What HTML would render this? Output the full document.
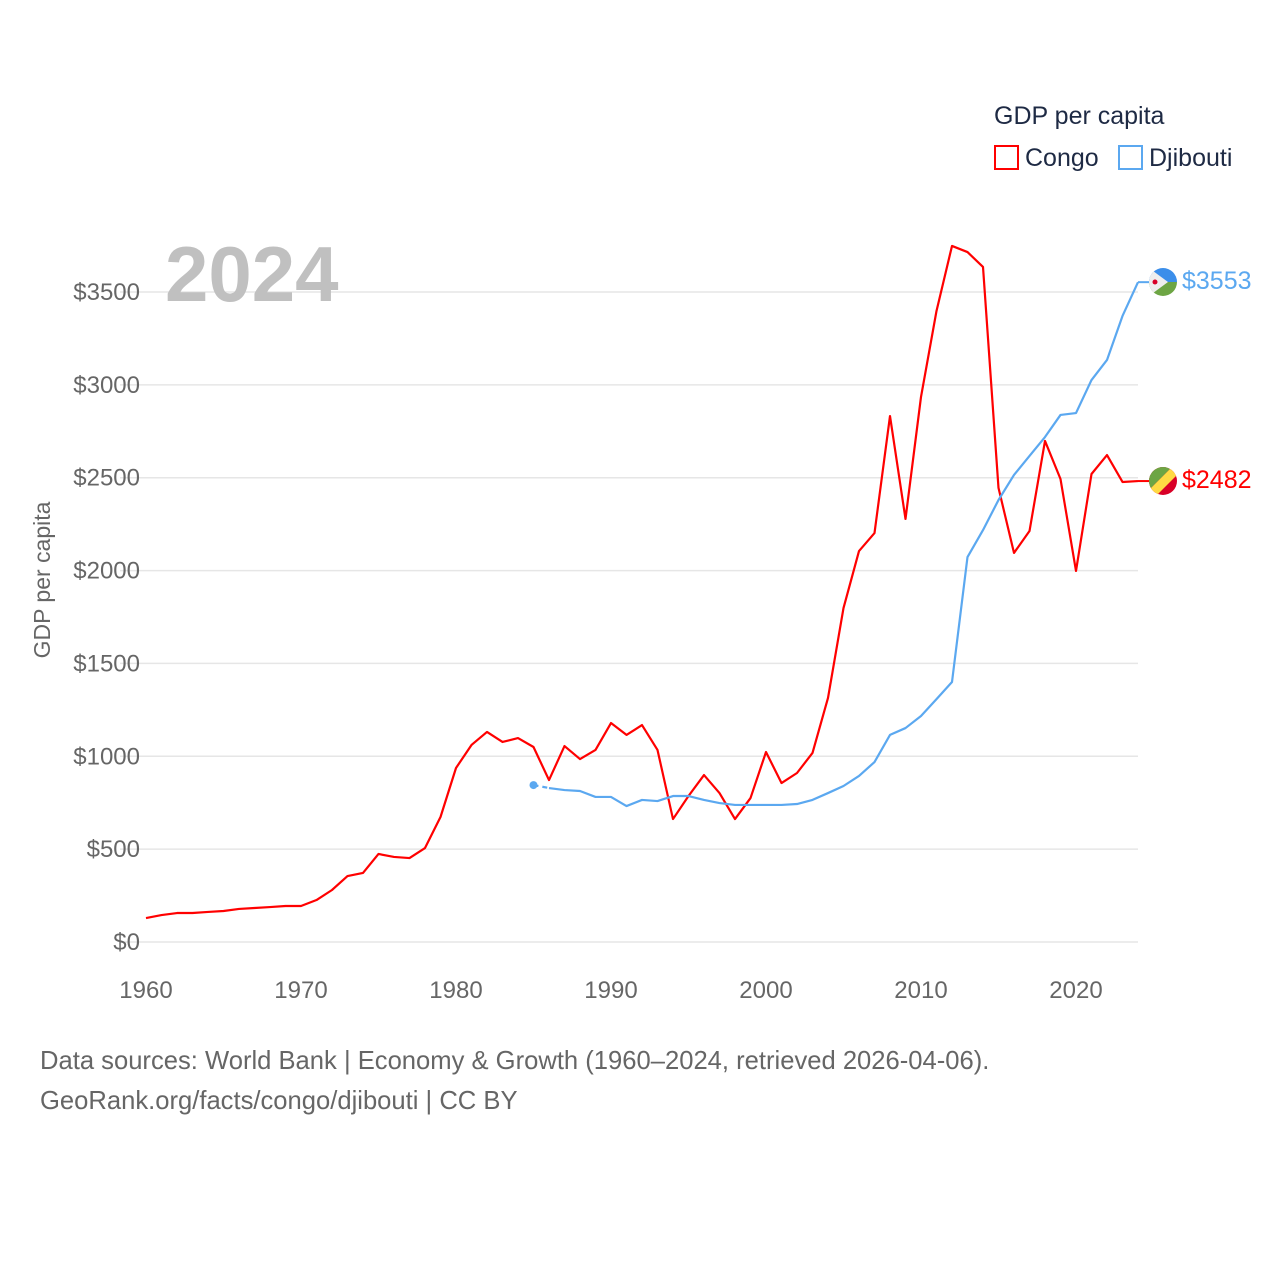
<!DOCTYPE html>
<html><head><meta charset="utf-8"><style>
body{margin:0;background:#fff;font-family:"Liberation Sans",sans-serif}
svg text{font-family:"Liberation Sans",sans-serif}
</style></head><body>
<svg id="chart" width="1280" height="1280">
<g id="grid"></g><g id="yt"></g><g id="xt"></g><g id="lines"></g>
<text x="165" y="301" font-size="78" font-weight="bold" fill="#c0c0c0">2024</text>
<text transform="translate(50,580) rotate(-90)" text-anchor="middle" font-size="23" fill="#666">GDP per capita</text>
<g>
<text x="994" y="124" font-size="25" fill="#1e2a44">GDP per capita</text>
<rect x="995" y="146" width="23" height="23" fill="none" stroke="#ff0000" stroke-width="2"/>
<text x="1025" y="166" font-size="25" fill="#1e2a44">Congo</text>
<rect x="1119" y="146" width="23" height="23" fill="none" stroke="#5ba8f0" stroke-width="2"/>
<text x="1149" y="166" font-size="25" fill="#1e2a44">Djibouti</text>
</g>
<g>
<clipPath id="c1"><circle cx="1163" cy="282" r="14"/></clipPath>
<g clip-path="url(#c1)"><rect x="1149" y="268" width="28" height="14" fill="#3b8eea"/><rect x="1149" y="282" width="28" height="14" fill="#6da544"/><polygon points="1149,268 1149,296 1168,282" fill="#eee"/><circle cx="1155" cy="282" r="2.5" fill="#d80027"/></g></g>
<g>
<clipPath id="c2"><circle cx="1163" cy="481" r="14"/></clipPath>
<g clip-path="url(#c2)"><rect x="1149" y="467" width="28" height="28" fill="#d80027"/><polygon points="1149,467 1172,467 1149,490" fill="#6da544"/><polygon points="1172,467 1180,467 1180,472 1154,498 1149,498 1149,490" fill="#ffda44"/></g></g>
<text x="1182" y="289" font-size="25" fill="#5ba8f0">$3553</text>
<text x="1182" y="488" font-size="25" fill="#ff0000">$2482</text>
<text x="40" y="1069" font-size="25.6" fill="#666">Data sources: World Bank | Economy &amp; Growth (1960–2024, retrieved 2026-04-06).</text>
<text x="40" y="1109" font-size="25.6" fill="#666">GeoRank.org/facts/congo/djibouti | CC BY</text>
</svg>
<script>
const congoYears=[];for(let y=1960;y<=2024;y++)congoYears.push(y);
const congoValues=[129,145,156,156,162,167,178,183,188,194,194,226,280,355,372,474,458,452,506,673,937,1061,1131,1077,1098,1050,872,1055,985,1034,1179,1115,1168,1034,662,786,899,802,662,775,1023,856,910,1018,1314,1798,2105,2202,2832,2278,2935,3398,3748,3715,3635,2445,2095,2213,2698,2493,1998,2520,2622,2477,2482];
const djiboutiYears=[];for(let y=1985;y<=2024;y++)djiboutiYears.push(y);
const djiboutiValues=[845,829,818,813,781,781,732,765,759,786,786,765,748,738,738,738,738,743,765,802,840,894,969,1115,1152,1217,1308,1400,2073,2218,2380,2515,2617,2719,2838,2848,3026,3134,3371,3553];
const yTicks=[0,500,1000,1500,2000,2500,3000,3500];
const xTicks=[1960,1970,1980,1990,2000,2010,2020];
const NS="http://www.w3.org/2000/svg";
const X=yr=>146+(yr-1960)*15.5;
const Y=v=>942-v*650/3500;
function mk(t,a,p){const e=document.createElementNS(NS,t);for(const k in a)e.setAttribute(k,a[k]);document.getElementById(p).appendChild(e);return e;}
yTicks.forEach(v=>{
 const l=mk('line',{x1:120,x2:1138,y1:Y(v),y2:Y(v),stroke:'#e6e6e6','stroke-width':1.5},'grid');
 
 
 const t=mk('text',{x:140,y:Y(v)+8,'text-anchor':'end','font-size':24,fill:'#666'},'yt');
 t.textContent='$'+v;
 
 
});
xTicks.forEach(v=>{
 const t=mk('text',{x:X(v),y:998,'text-anchor':'middle','font-size':24,fill:'#666'},'xt');
 t.textContent=v;
 
 
});
function pts(ys,vs){return ys.map((y,i)=>X(y)+','+Y(vs[i])).join(' ');}
const c=mk('polyline',{points:pts(congoYears,congoValues),fill:'none',stroke:'#ff0000','stroke-width':2.2,'stroke-linejoin':'round'},'lines');


const dd=mk('polyline',{points:pts(djiboutiYears.slice(0,2),djiboutiValues.slice(0,2)),fill:'none',stroke:'#5ba8f0','stroke-width':2.2,'stroke-dasharray':'5,4'},'lines');


const d=mk('polyline',{points:pts(djiboutiYears.slice(1),djiboutiValues.slice(1)),fill:'none',stroke:'#5ba8f0','stroke-width':2.2,'stroke-linejoin':'round'},'lines');


const dot=mk('circle',{cx:X(djiboutiYears[0]),cy:Y(djiboutiValues[0]),r:4,fill:'#5ba8f0'},'lines');


const lastC=congoValues[congoValues.length-1],lastD=djiboutiValues[djiboutiValues.length-1];
const e1=mk('line',{x1:X(2024),x2:1149,y1:Y(lastC),y2:Y(lastC),stroke:'#ff0000','stroke-width':2},'lines');


const e2=mk('line',{x1:X(2024),x2:1149,y1:Y(lastD),y2:Y(lastD),stroke:'#5ba8f0','stroke-width':2},'lines');


</script>
</body></html>
